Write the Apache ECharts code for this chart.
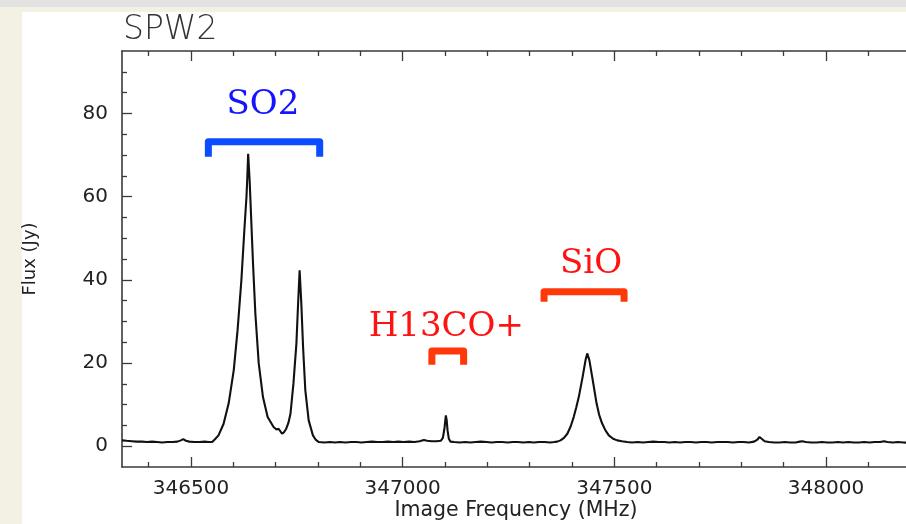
<!DOCTYPE html>
<html><head><meta charset="utf-8">
<script src="https://cdn.jsdelivr.net/npm/echarts@6/dist/echarts.min.js"></script>
<style>
html,body{margin:0;padding:0;width:906px;height:524px;overflow:hidden;background:#f3f0e4;}
#topband{position:absolute;left:0;top:0;width:906px;height:7px;background:#e2e2e2;}
#panel{position:absolute;left:22px;top:12px;width:884px;height:512px;background:#ffffff;}
#chart{position:absolute;left:0;top:0;width:906px;height:524px;}
</style></head><body>
<div id="topband"></div><div id="panel"></div><div id="chart"></div>
<script>
// ---- data ----
var chartTitle = 'SPW2';
var xName = 'Image Frequency (MHz)';
var yName = 'Flux (Jy)';
var xMin = 346337, xMax = 348300;
var yMin = -5, yMax = 95;
var xMajorTicks = [346500, 347000, 347500, 348000];
var xMinorTicks = [346400, 346600, 346700, 346800, 346900, 347100, 347200, 347300, 347400, 347600, 347700, 347800, 347900, 348100, 348200];
var yMajorTicks = [0, 20, 40, 60, 80];
var yMinorTicks = [5, 10, 15, 25, 30, 35, 45, 50, 55, 65, 70, 75, 85, 90];

var freq = [
 346337,346348,346360,346372,346384,346396,346408,346420,346432,346444,346456,346468,346476,346482,346488,346496,346508,346520,346532,346542,
 346550,346556,346565,346577,346589,346601,346610,346619,346626,346631,346633,346635,346638.5,346642,346646.5,346652,346660,346670,346681,346695,
 346702,346707,346711,346715,346720,346725,346730,346735,346742,346749,346753,346756.6,346760.6,346764.7,346770,346778,346788,346795,346802,
 346815,346828,346840,346852,346865,346878,346890,346903,346915,346928,346940,346953,346965,346978,346990,347002,347015,347028,347040,347050,
 347058,347068,347080,347090,347095,347099,347102,347104,347106,347109,347113,347122,347135,347148,347160,347172,347185,347198,347210,347222,
 347235,347248,347260,347272,347285,347298,347310,347322,347335,347348,347358,347365,
 347373,347381,347389,347397,347404,347410,347416,347425,347432,347436,347441,347449,347458,347464,347471,347479,347487,347497,347507,347518,347530,
 347542,347555,347568,347580,347592,347605,347618,347630,347643,347655,347668,347680,347693,347705,347718,347730,347743,347755,347768,347780,
 347793,347805,347818,347830,347838,347843,347848,347855,347865,347878,347890,347903,347915,347928,347938,347944,347952,347965,347978,347990,
 348003,348015,348028,348040,348053,348065,348078,348090,348103,348115,348128,348137,348145,348158,348170,348183,348195,348208,348220,348240,348260,348280,348300
];
var flux = [
 1.4,1.3,1.2,1.1,1.1,1.0,1.1,1.0,0.9,1.0,1.0,1.1,1.4,1.7,1.3,1.1,1.0,1.0,1.1,1.0,
 1.0,1.6,2.6,5.4,10.3,18.3,27.9,39.9,51.9,59.9,64.5,70.3,63.9,55.1,43.9,31.9,19.9,11.8,7.0,4.6,
 4.0,4.2,3.6,3.0,3.4,4.2,5.6,7.8,15.1,24.7,34.3,42.3,34.3,23.9,13.5,6.2,2.6,1.5,1.0,
 0.9,1.0,0.9,1.0,0.9,1.0,1.0,0.9,1.0,1.1,1.0,1.0,1.1,1.0,1.1,1.0,1.1,1.0,1.2,1.5,
 1.3,1.2,1.2,1.3,2.0,4.5,7.4,6.2,3.8,1.8,1.1,1.0,0.9,1.0,0.9,1.0,1.1,1.0,0.9,1.0,
 1.0,0.9,1.0,1.0,0.9,1.0,0.9,1.0,1.0,0.9,1.0,1.1,
 1.4,2.0,3.0,4.8,7.0,9.3,11.8,16.6,20.7,22.3,20.7,15.9,10.3,7.6,5.5,3.8,2.6,1.8,1.4,1.2,1.0,
 0.9,1.0,0.9,1.0,1.1,1.0,1.0,0.9,1.0,0.9,1.0,1.0,0.9,1.0,1.0,0.9,1.0,1.0,1.0,0.9,
 1.0,1.0,0.9,1.1,1.6,2.2,1.8,1.2,1.0,0.9,0.9,1.0,0.9,0.9,1.1,1.2,1.0,0.9,0.9,1.0,
 0.9,0.9,1.0,0.9,1.0,0.9,0.9,1.0,0.9,1.0,1.0,1.2,1.0,0.9,1.0,0.9,0.8,0.9,1.0,0.9,1.0,0.9,1.0
];

// annotation brackets (frequency span, bar level, foot level, label anchor)
var bracketNames = ['SO2', 'H13CO+', 'SiO'];
var bracketStart = [346541, 347069, 347334];
var bracketEnd   = [346804, 347144, 347523];
var bracketLevel = [73.2, 22.9, 37.1];
var bracketFoot  = [69.6, 19.6, 34.7];
var labelFreq    = [346670, 347103, 347445];
var labelFlux    = [82.0, 28.6, 43.7];
var bracketColors = ['#0a4cff', '#ff380a', '#ff380a'];
var labelColors   = ['#1414ff', '#ff1212', '#ff1212'];

// ---- chart ----
var chart = echarts.init(document.getElementById('chart'), null, {renderer: 'canvas'});
var frameColor = '#3a3a3a';
var gridRect = {left: 122, top: 51, width: 831, bottom: 57, containLabel: false, outerBoundsMode: 'none'};
var lineData = freq.map(function (f, i) { return [f, flux[i]]; });
var bracketData = bracketNames.map(function (n, i) {
  return [bracketStart[i], bracketEnd[i], bracketLevel[i], bracketFoot[i], labelFreq[i], labelFlux[i]];
});
function plainNum(v) { return String(v); }

function xAx(grid, pos, major) {
  return {
    type: 'value', gridIndex: grid, position: pos, min: xMin, max: xMax,
    axisLine: {show: major, onZero: false, lineStyle: {color: frameColor, width: 1.6}},
    axisTick: {show: true, inside: true, length: major ? 10 : 5, customValues: major ? xMajorTicks : xMinorTicks,
               lineStyle: {color: frameColor, width: 1.3}},
    axisLabel: {show: major && pos === 'bottom', customValues: xMajorTicks, margin: 12, formatter: plainNum,
                fontFamily: 'DejaVu Sans', fontSize: 20, color: '#222'},
    splitLine: {show: false}
  };
}
function yAx(grid, pos, major) {
  var o = {
    type: 'value', gridIndex: grid, position: pos, min: yMin, max: yMax,
    axisLine: {show: major, onZero: false, lineStyle: {color: frameColor, width: 1.6}},
    axisTick: {show: true, inside: true, length: major ? 10 : 5, customValues: major ? yMajorTicks : yMinorTicks,
               lineStyle: {color: frameColor, width: 1.3}},
    axisLabel: {show: major && pos === 'left', customValues: yMajorTicks, margin: 14, formatter: plainNum,
                fontFamily: 'DejaVu Sans', fontSize: 20, color: '#222'},
    splitLine: {show: false}
  };
  if (major && pos === 'left') {
    o.name = yName; o.nameLocation = 'middle'; o.nameRotate = 90; o.nameGap = 83;
    o.nameTextStyle = {fontFamily: 'DejaVu Sans', fontSize: 18, color: '#222'};
  }
  return o;
}

chart.setOption({
  animation: false,
  title: {text: chartTitle, left: 118, top: 9,
          textStyle: {fontFamily: 'DejaVu Sans', fontWeight: 200, fontSize: 33, color: '#333'}},
  grid: [Object.assign({}, gridRect), Object.assign({}, gridRect)],
  xAxis: [xAx(0, 'bottom', true), xAx(0, 'top', true), xAx(1, 'bottom', false), xAx(1, 'top', false)],
  yAxis: [yAx(0, 'left', true), yAx(0, 'right', true), yAx(1, 'left', false), yAx(1, 'right', false)],
  graphic: [{
    type: 'text', x: 516, y: 511, z: 10,
    style: {text: xName, align: 'center', verticalAlign: 'middle', fontFamily: 'DejaVu Sans', fontSize: 20.5, fill: '#222'}
  }],
  series: [
    {type: 'line', xAxisIndex: 0, yAxisIndex: 0, data: lineData, showSymbol: false, smooth: false,
     lineStyle: {color: '#111', width: 2.1}, clip: true, z: 3},
    {type: 'custom', xAxisIndex: 0, yAxisIndex: 0, data: bracketData, clip: false, z: 5,
     renderItem: function (params, api) {
       var i = params.dataIndex;
       var x1 = api.value(0), x2 = api.value(1), top = api.value(2), foot = api.value(3);
       var p1 = api.coord([x1, foot]), p2 = api.coord([x1, top]), p3 = api.coord([x2, top]), p4 = api.coord([x2, foot]);
       var lp = api.coord([api.value(4), api.value(5)]);
       return {type: 'group', children: [
         {type: 'polyline', shape: {points: [p1, p2, p3, p4]},
          style: {stroke: bracketColors[i], lineWidth: 7, fill: null, lineJoin: 'round', lineCap: 'butt'}},
         {type: 'text', style: {text: bracketNames[i], x: lp[0], y: lp[1], align: 'center', verticalAlign: 'middle',
          fontFamily: 'DejaVu Serif', fontSize: 34, fill: labelColors[i]}}
       ]};
     }}
  ]
});
</script></body></html>
